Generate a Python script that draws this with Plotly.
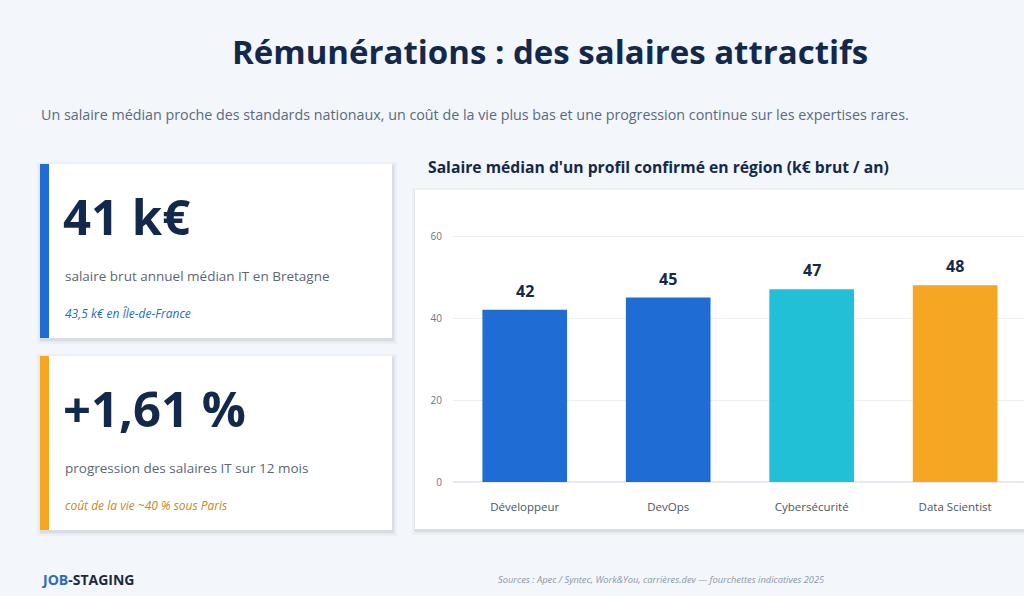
import plotly.graph_objects as go

# Données
metiers = ["Développeur", "DevOps", "Cybersécurité", "Data Scientist"]
salaires = [42, 45, 47, 48]
couleurs = ["#1f6dd4", "#1f6dd4", "#22c0d6", "#f5a623"]
ticks_y = [0, 20, 40, 60]

kpi_valeurs = ["41 k€", "+1,61 %"]
kpi_libelles = ["salaire brut annuel médian IT en Bretagne",
                "progression des salaires IT sur 12 mois"]
kpi_notes = ["43,5 k€ en Île-de-France", "coût de la vie ~40 % sous Paris"]
kpi_accents = ["#1f6dd4", "#f5a623"]
kpi_notes_couleurs = ["#2a6cc0", "#c28a1a"]

W, H = 1024, 596
H_REF = 589   # hauteur utile constatée au rendu
NAVY = "#13294b"
FONT = "Open Sans"


def px(x):
    return x / W


def py(y):
    return 1 - y / H_REF


fig = go.Figure()
fig.add_trace(go.Bar(
    x=metiers, y=salaires, marker_color=couleurs, marker_line_width=0,
    hoverinfo="skip", width=0.59,
))

shapes = []
annotations = []

# étiquettes de valeur au-dessus des barres
for m, s in zip(metiers, salaires):
    annotations.append(dict(x=m, y=s, xref="x", yref="y", xanchor="center", yanchor="bottom",
                            yshift=6, text="<b>%d</b>" % s,
                            font=dict(family=FONT, size=16, color=NAVY)))


def carte(x0, y0, x1, y1):
    # ombre douce
    for d, a in [(4, 0.03), (2, 0.04), (1, 0.05)]:
        shapes.append(dict(type="rect", xref="paper", yref="paper", layer="below",
                           x0=px(x0 - d + 1), x1=px(x1 + d + 1), y0=py(y1 + d + 2), y1=py(y0 - d + 2),
                           fillcolor="rgba(20,40,80,%s)" % a, line_width=0))
    shapes.append(dict(type="rect", xref="paper", yref="paper", layer="below",
                       x0=px(x0), x1=px(x1), y0=py(y1), y1=py(y0),
                       fillcolor="white", line_width=0))


# cartes KPI
tops = [164, 356]
for i in range(2):
    t = tops[i]
    carte(40, t, 392, t + 174)
    shapes.append(dict(type="rect", xref="paper", yref="paper", layer="below",
                       x0=px(40), x1=px(49), y0=py(t + 174), y1=py(t),
                       fillcolor=kpi_accents[i], line_width=0))
    annotations.append(dict(x=px(61), y=py(t + 52), text="<b>%s</b>" % kpi_valeurs[i],
                            font=dict(family=FONT, size=49, color=NAVY)))
    annotations.append(dict(x=px(63), y=py(t + 112), text=kpi_libelles[i],
                            font=dict(family=FONT, size=13.5, color="#5d6675")))
    annotations.append(dict(x=px(63), y=py(t + 149), text="<i>%s</i>" % kpi_notes[i],
                            font=dict(family=FONT, size=12, color=kpi_notes_couleurs[i])))

# carte du graphique
carte(415, 190, 1040, 529)

annotations += [
    dict(x=px(550), y=py(52), xanchor="center", text="<b>Rémunérations : des salaires attractifs</b>",
         font=dict(family=FONT, size=33, color=NAVY)),
    dict(x=px(39), y=py(114), text="Un salaire médian proche des standards nationaux, un coût de la vie plus bas et une progression continue sur les expertises rares.",
         font=dict(family=FONT, size=14.3, color="#5a6a7e")),
    dict(x=px(426), y=py(167), text="<b>Salaire médian d'un profil confirmé en région (k€ brut / an)</b>",
         font=dict(family=FONT, size=15.7, color=NAVY)),
    dict(x=px(39), y=py(579), text="<b><span style='color:#2a6cc0'>JOB</span>-STAGING</b>",
         font=dict(family=FONT, size=14, color="#1d2a3c")),
    dict(x=px(661), y=py(579), xanchor="center",
         text="<i>Sources : Apec / Syntec, Work&You, carrières.dev — fourchettes indicatives 2025</i>",
         font=dict(family=FONT, size=9.3, color="#8c97a6")),
]
for a in annotations:
    a.setdefault("xref", "paper")
    a.setdefault("yref", "paper")
    a.setdefault("xanchor", "left")
    a.setdefault("yanchor", "middle")
    a.setdefault("showarrow", False)

fig.update_layout(
    width=W, height=H, margin=dict(l=0, r=0, t=0, b=0),
    paper_bgcolor="#f3f6fa", plot_bgcolor="rgba(0,0,0,0)",
    showlegend=False, shapes=shapes, annotations=annotations,
    font=dict(family=FONT),
    xaxis=dict(domain=[px(453), 1], range=[-0.5, 3.48], showgrid=False, showline=False,
               ticks="", tickfont=dict(size=11.5, color="#4a5566"), ticklabelstandoff=16,
               fixedrange=True),
    yaxis=dict(domain=[py(482), py(211.4)], range=[0, 66], tickvals=ticks_y,
               showgrid=True, gridcolor="#eceff4", zeroline=True, zerolinecolor="#e6eaf0",
               tickfont=dict(size=10, color="#6b7585"), ticks="", ticklabelstandoff=10,
               fixedrange=True),
)

page_css = ("document.body.style.margin='0';"
            "document.body.style.fontSize='0';"
            "document.body.style.lineHeight='0';"
            "document.body.style.overflow='hidden';"
            "document.documentElement.style.overflow='hidden';")

fig.write_html("out.html", config={"displayModeBar": False}, post_script=page_css)
